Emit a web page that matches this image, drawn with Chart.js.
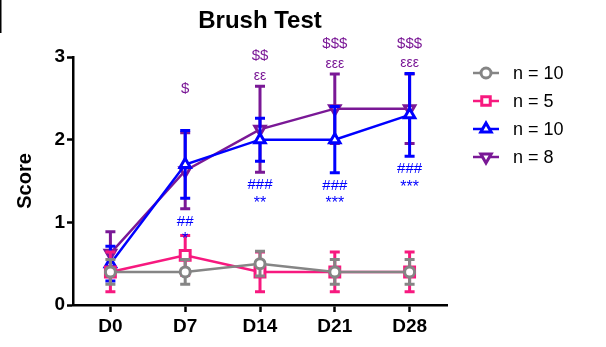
<!DOCTYPE html>
<html>
<head>
<meta charset="utf-8">
<script src="https://cdn.jsdelivr.net/npm/chart.js@4.4.1/dist/chart.umd.min.js"></script>
<style>
  html, body { margin: 0; padding: 0; background: #fff; }
  #wrap { width: 606px; height: 347px; position: relative; }
</style>
</head>
<body>
<div id="wrap"><canvas id="c" width="606" height="347"></canvas></div>
<script>
// Time points and group labels
const categories = ['D0', 'D7', 'D14', 'D21', 'D28'];
const seriesNames = ['n = 10', 'n = 5', 'n = 10', 'n = 8'];

// Mean score and SEM per group
const grayMean = [0.4, 0.4, 0.5, 0.4, 0.4];
const grayErr = [0.15, 0.15, 0.15, 0.15, 0.15];
const pinkMean = [0.4, 0.6, 0.4, 0.4, 0.4];
const pinkErr = [0.24, 0.24, 0.24, 0.24, 0.24];
const blueMean = [0.5, 1.7, 2.0, 2.0, 2.3];
const blueErr = [0.21, 0.41, 0.26, 0.4, 0.5];
const purpleMean = [0.625, 1.625, 2.125, 2.375, 2.375];
const purpleErr = [0.26, 0.46, 0.52, 0.42, 0.42];

// Significance marks (top-down lines)
const purpleMarks = [[], ['$', '', ''], ['$$', 'εε'], ['$$$', 'εεε'], ['$$$', 'εεε']];
const blueMarks = [[], ['##', '*'], ['###', '**'], ['###', '***'], ['###', '***']];

const yTicks = [0, 1, 2, 3];

const GRAY = '#858585', PINK = '#f7197f', BLUE = '#0000ff', PURPLE = '#7a1896';
const FONT = '"Liberation Sans", Arial, Helvetica, sans-serif';

function mk(label, data, err, color, style, radius, rot) {
  return {
    label, data, err,
    borderColor: color, backgroundColor: '#ffffff',
    borderWidth: 2.5,
    pointStyle: style, rotation: rot || 0,
    pointRadius: radius, pointBorderWidth: 3,
    pointBackgroundColor: '#ffffff', pointBorderColor: color,
    tension: 0
  };
}

const errorBars = {
  id: 'errorBars',
  beforeDatasetDraw(chart, args) {
    const ds = chart.data.datasets[args.index];
    const meta = chart.getDatasetMeta(args.index);
    const y = chart.scales.y;
    const ctx = chart.ctx;
    ctx.save();
    ctx.strokeStyle = ds.borderColor;
    ctx.lineWidth = 3;
    ctx.lineCap = 'butt';
    meta.data.forEach((pt, i) => {
      const m = ds.data[i], e = ds.err[i];
      const yt = y.getPixelForValue(m + e), yb = y.getPixelForValue(m - e);
      ctx.beginPath();
      ctx.moveTo(pt.x, yt); ctx.lineTo(pt.x, yb);
      ctx.moveTo(pt.x - 5, yt); ctx.lineTo(pt.x + 5, yt);
      ctx.moveTo(pt.x - 5, yb); ctx.lineTo(pt.x + 5, yb);
      ctx.stroke();
    });
    ctx.restore();
  }
};

const decorations = {
  id: 'decorations',
  afterDraw(chart) {
    const ctx = chart.ctx;
    const x = chart.scales.x, y = chart.scales.y;
    const area = chart.chartArea;
    ctx.save();
    // edge mark in the top-left corner
    ctx.fillStyle = '#000';
    ctx.fillRect(0, 0, 1.5, 33);

    // title
    ctx.fillStyle = '#000';
    ctx.font = 'bold 24px ' + FONT;
    ctx.textAlign = 'center';
    ctx.textBaseline = 'alphabetic';
    ctx.fillText('Brush Test', (area.left + area.right) / 2, 28);

    // significance marks
    categories.forEach((c, i) => {
      const px = x.getPixelForValue(i);
      const top = Math.min(
        y.getPixelForValue(purpleMean[i] + purpleErr[i]),
        y.getPixelForValue(blueMean[i] + blueErr[i]));
      const bot = Math.max(
        y.getPixelForValue(purpleMean[i] - purpleErr[i]),
        y.getPixelForValue(blueMean[i] - blueErr[i]));
      ctx.textAlign = 'center';
      ctx.textBaseline = 'middle';
      ctx.fillStyle = PURPLE;
      const pm = purpleMarks[i];
      pm.forEach((t, k) => {
        const yy = top - 10 - (pm.length - 1 - k) * (pm.length > 2 ? 16 : 20);
        ctx.font = (t.indexOf('$') >= 0 ? '15px ' : '14px ') + FONT;
        ctx.fillText(t, px, yy);
      });
      ctx.fillStyle = BLUE;
      blueMarks[i].forEach((t, k) => {
        const star = t.indexOf('*') >= 0;
        ctx.font = (star ? '16px ' : '15px ') + FONT;
        ctx.fillText(t, px, bot + 13 + k * 14 + (star ? 4 : 0));
      });
    });

    // legend
    const ds = chart.data.datasets;
    ds.forEach((d, i) => {
      const ly = 73 + i * 28;
      ctx.strokeStyle = d.borderColor;
      ctx.lineWidth = 2.5;
      ctx.beginPath();
      ctx.moveTo(473, ly); ctx.lineTo(499, ly);
      ctx.stroke();
      ctx.lineWidth = 3;
      ctx.fillStyle = '#ffffff';
      ctx.strokeStyle = d.borderColor;
      Chart.helpers.drawPoint(ctx, {
        pointStyle: d.pointStyle, rotation: d.rotation, radius: Math.min(d.pointRadius, 6), borderWidth: 3
      }, 486, ly);
      ctx.fillStyle = '#000';
      ctx.font = '18px ' + FONT;
      ctx.textAlign = 'left';
      ctx.textBaseline = 'middle';
      ctx.fillText(seriesNames[i], 513, ly + 1);
    });
    ctx.restore();
  }
};

new Chart(document.getElementById('c'), {
  type: 'line',
  data: {
    labels: categories,
    datasets: [
      mk(seriesNames[0], grayMean, grayErr, GRAY, 'circle', 5),
      mk(seriesNames[1], pinkMean, pinkErr, PINK, 'rect', 7),
      mk(seriesNames[2], blueMean, blueErr, BLUE, 'triangle', 6),
      mk(seriesNames[3], purpleMean, purpleErr, PURPLE, 'triangle', 6, 180)
    ]
  },
  options: {
    responsive: false,
    animation: false,
    layout: { padding: { top: 57, right: 159, left: 0, bottom: 0 } },
    plugins: { legend: { display: false }, title: { display: false }, tooltip: { enabled: false } },
    scales: {
      x: {
        offset: true,
        grid: { display: true, drawOnChartArea: false, drawTicks: true, tickLength: 7, tickWidth: 2.5, tickColor: '#000', offset: false },
        border: { display: true, color: '#000', width: 2.5 },
        ticks: { color: '#000', font: { family: FONT, size: 19, weight: 'bold' }, padding: 3 },
        afterFit(s) { s.height = 42; }
      },
      y: {
        min: 0, max: 3,
        afterBuildTicks(s) { s.ticks = yTicks.map(v => ({ value: v })); },
        grid: { display: true, drawOnChartArea: false, drawTicks: true, tickLength: 6, tickWidth: 2.5, tickColor: '#000' },
        border: { display: true, color: '#000', width: 2.5 },
        ticks: { color: '#000', font: { family: FONT, size: 19, weight: 'bold' }, padding: 2 },
        title: { display: true, text: 'Score', color: '#000', font: { family: FONT, size: 20, weight: 'bold' }, padding: { top: 13, bottom: 0 } },
        afterFit(s) { s.width = 73; }
      }
    }
  },
  plugins: [errorBars, decorations]
});
</script>
</body>
</html>
